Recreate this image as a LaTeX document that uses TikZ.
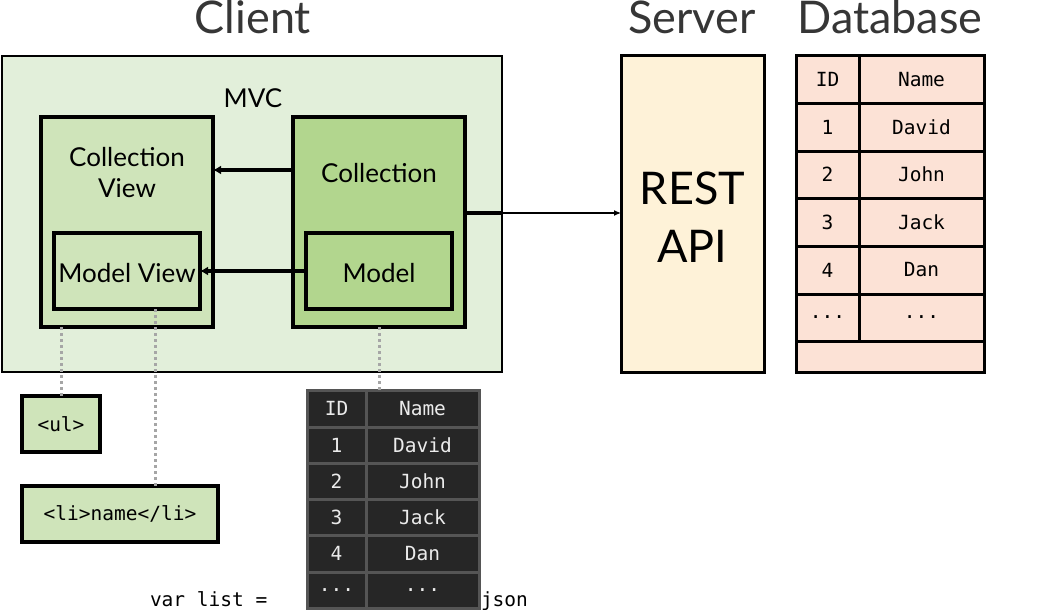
\documentclass[tikz,border=0pt]{standalone}
\usepackage{fontspec}
\setmainfont{Lato}
\setmonofont{DejaVu Sans Mono}
\usetikzlibrary{arrows.meta,calc}
\newcommand{\tdots}{...}
\definecolor{mvcfill}{HTML}{E2EFDA}
\definecolor{viewfill}{HTML}{CFE4BA}
\definecolor{modelfill}{HTML}{B2D68E}
\definecolor{restfill}{HTML}{FEF2D8}
\definecolor{dbfill}{HTML}{FCE2D6}
\definecolor{darkcell}{HTML}{262626}
\definecolor{darkgrid}{HTML}{555555}
\definecolor{titlegray}{HTML}{363636}
\definecolor{dotgray}{HTML}{A6A6A6}
\tikzset{
  every node/.style={inner sep=0pt, outer sep=0pt},
  boxed/.style={draw=black, line width=3.5pt, rectangle},
  title/.style={font=\fontsize{45}{50}\selectfont, text=titlegray, anchor=base},
  lbl/.style={font=\fontsize{26}{31}\selectfont, anchor=base},
  bigl/.style={font=\fontsize{45}{50}\selectfont, anchor=base},
  mono/.style={font=\ttfamily\fontsize{19.5}{21}\selectfont},
  dbcell/.style={draw=black, line width=3pt, fill=dbfill, rectangle, mono},
  dkcell/.style={draw=darkgrid, line width=3pt, fill=darkcell, rectangle, mono, text=white!92!black},
  dotline/.style={draw=dotgray, line width=3pt, dash pattern=on 3pt off 3pt},
  thickarrow/.style={line width=3.5pt, -{Latex[length=8pt,width=9pt]}},
}
\begin{document}
\begin{tikzpicture}[x=1pt,y=-1pt]
\useasboundingbox (0,0) rectangle (1055,610);
% titles
\node[title] (tclient) at (253,34) {Client};
\node[title] (tserver) at (692,34) {Server};
\node[title] (tdb) at (890,34) {Database};
% MVC container
\node[boxed, line width=2.5pt, fill=mvcfill, minimum width=500pt, minimum height=316pt] (mvc) at (252,214) {};
\node[lbl] (mvclbl) at (253,107) {MVC};
% collection view
\node[boxed, fill=viewfill, minimum width=172pt, minimum height=210pt] (cv) at (127,222) {};
\node[lbl] (cvl1) at (127,166) {Collection};
\node[lbl] (cvl2) at (127,197) {View};
\node[boxed, fill=viewfill, minimum width=146pt, minimum height=76pt] (mv) at (127,271) {};
\node[lbl] (mvl) at (127,282) {Model View};
% collection
\node[boxed, fill=modelfill, minimum width=172pt, minimum height=210pt] (coll) at (379,222) {};
\node[lbl] (colll) at (379,182) {Collection};
\node[boxed, fill=modelfill, minimum width=146pt, minimum height=76pt] (model) at (379,271) {};
\node[lbl] (modell) at (379,282) {Model};
% arrows inside MVC
\draw[thickarrow] (coll.west |- 0,170) -- (cv.east |- 0,170);
\draw[thickarrow] (model.west) -- (mv.east);
% REST API
\node[boxed, line width=3pt, fill=restfill, minimum width=143pt, minimum height=316pt] (rest) at (692.5,214) {};
\node[bigl] (restl1) at (692.5,204) {REST};
\node[bigl] (restl2) at (692.5,262) {API};
% arrow to REST
\coordinate (exitA) at (coll.east |- 0,213);
\coordinate (exitB) at (mvc.east |- 0,213);
\draw[line width=3.5pt] (exitA) -- (exitB);
\draw[line width=1.2pt, -{Latex[length=7pt,width=6pt]}] (exitB) -- (rest.west |- exitB);
% html boxes
\node[boxed, fill=viewfill, minimum width=78pt, minimum height=56pt, mono] (ul) at (61,424) {<ul>};
\node[boxed, fill=viewfill, minimum width=196pt, minimum height=56pt, mono] (li) at (120,514) {<li>name</li>};
% database table
\foreach \yt/\yb/\a/\b [count=\i] in {56/103/ID/Name,103/151/1/David,151/198/2/John,198/246/3/Jack,246/294/4/Dan,294/341/\tdots/\tdots}{
  \node[dbcell, minimum width=63pt, minimum height={\yb-\yt}] (dbid\i) at (827.5,{(\yt+\yb)/2}) {\a};
  \node[dbcell, minimum width=125pt, minimum height={\yb-\yt}] (dbname\i) at (921.5,{(\yt+\yb)/2}) {\b};
}
\node[dbcell, minimum width=188pt, minimum height=31pt] (dblast) at (890,356.5) {};
% dark json table
\foreach \yt/\yb/\a/\b [count=\i] in {390/427/ID/Name,427/463/1/David,463/499/2/John,499/535/3/Jack,535/572/4/Dan,572/608/\tdots/\tdots}{
  \node[dkcell, minimum width=59pt, minimum height={\yb-\yt}] (jid\i) at (336.5,{(\yt+\yb)/2}) {\a};
  \node[dkcell, minimum width=113pt, minimum height={\yb-\yt}] (jname\i) at (422.5,{(\yt+\yb)/2}) {\b};
}
\node[mono, anchor=base west] (varlist) at (150,606) {var list =};
\node[mono, anchor=base west] (jsonl) at (481,606) {json};
% dotted links
\draw[dotline] (ul.north |- cv.south) -- (ul.north);
\coordinate (mvdot) at (155,309);
\draw[dotline] (mvdot) -- (mvdot |- li.north);
\draw[dotline] (model.south |- coll.south) -- (model.south |- jid1.north);
% faint white text
\node[bigl, text=white, anchor=base west] (w1) at (560,425) {1.};
\node[bigl, text=white, anchor=base west] (w2) at (553,505) {2.};
\end{tikzpicture}
\end{document}
